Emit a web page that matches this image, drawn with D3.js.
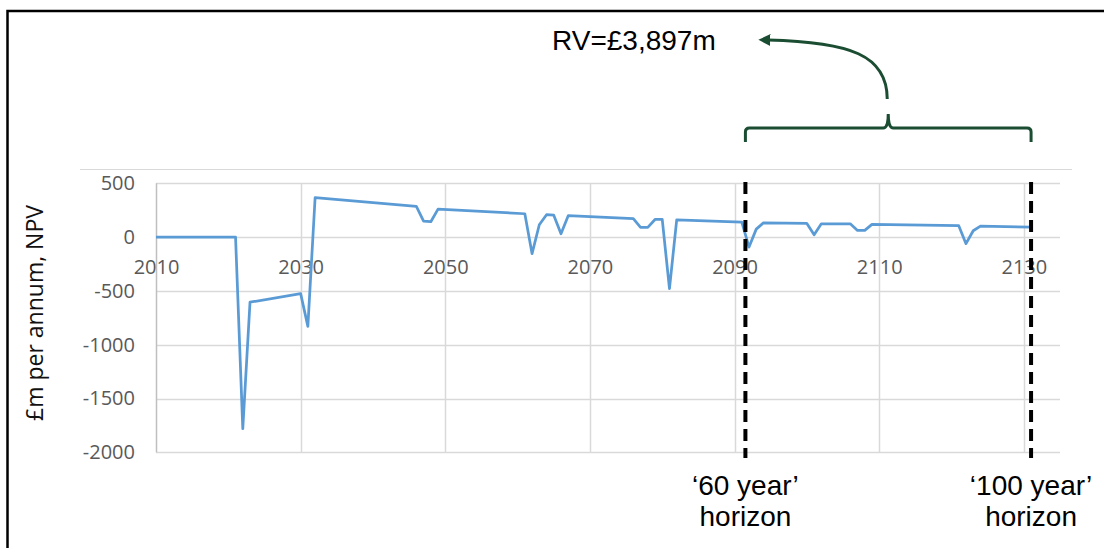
<!doctype html>
<html>
  <head>
    <meta charset="utf-8">
    <script src="https://cdn.jsdelivr.net/npm/d3@7"></script>
    <style>
      body { margin: 0; background: #fff; }
      svg { display: block; }
    </style>
  </head>
  <body>
    <svg width="1104" height="548"></svg>

    <script type="text/javascript">

        // values (vertices of the line)
        var years = [2010, 2021, 2022, 2023, 2030, 2031, 2032, 2046, 2047, 2048, 2049,
                     2061, 2062, 2063, 2064, 2065, 2066, 2067,
                     2076, 2077, 2078, 2079, 2080, 2081, 2082,
                     2091, 2092, 2093, 2094, 2100, 2101, 2102,
                     2106, 2107, 2108, 2109, 2121, 2122, 2123, 2124, 2131];
        var values = [0, 0, -1780, -605, -525, -830, 366, 285, 149, 143, 260,
                      217, -154, 115, 208, 204, 31, 199,
                      171, 90, 90, 164, 164, -479, 161,
                      139, -93, 74, 133, 127, 22, 124,
                      124, 62, 62, 118, 106, -61, 59, 102, 93];
        var xTicks = [2010, 2030, 2050, 2070, 2090, 2110, 2130];
        var yTicks = [500, 0, -500, -1000, -1500, -2000];
        var horizonYears = [2091.5, 2131];
        var horizonLabels = [["\u201860 year\u2019", "horizon"], ["\u2018100 year\u2019", "horizon"]];
        var rvLabel = "RV=\u00a33,897m";
        var yTitle = "\u00a3m per annum, NPV";

        var svg = d3.select("svg");
        var green = "#1b4d33";

        var x = d3.scaleLinear().domain([2010, 2135]).range([156, 1060]);
        var y = d3.scaleLinear().domain([-2000, 500]).range([452.3, 183.3]);

        // outer frame (left + top only)
        svg.append("path")
            .attr("d", "M7.5,548 L7.5,11 L1104,11")
            .attr("fill", "none")
            .attr("stroke", "#000")
            .attr("stroke-width", 2.5);

        // chart area top edge
        svg.append("line")
            .attr("x1", 80).attr("x2", 1072)
            .attr("y1", 169.5).attr("y2", 169.5)
            .attr("stroke", "#d9d9d9");

        // y tick labels
        svg.append("g")
            .attr("transform", "translate(156,0)")
            .call(d3.axisLeft(y).tickValues(yTicks).tickFormat(d => String(d)).tickSize(0).tickPadding(21))
            .call(g => g.select(".domain").remove())
            .call(g => g.selectAll("text")
                .attr("fill", "#595959")
                .style("font-family", "'Open Sans', sans-serif")
                .style("font-size", "20px"));

        // horizontal gridlines
        svg.append("g").selectAll("line")
            .data(yTicks).join("line")
            .attr("x1", 156).attr("x2", 1060)
            .attr("y1", d => Math.round(y(d)) + 0.5).attr("y2", d => Math.round(y(d)) + 0.5)
            .attr("stroke", "#d9d9d9").attr("stroke-width", 1.5);

        // vertical gridlines
        svg.append("g").selectAll("line")
            .data(xTicks.slice(1)).join("line")
            .attr("x1", d => Math.round(x(d)) + 0.5).attr("x2", d => Math.round(x(d)) + 0.5)
            .attr("y1", y(500)).attr("y2", y(-2000))
            .attr("stroke", "#d9d9d9").attr("stroke-width", 1.5);

        // y axis line
        svg.append("line")
            .attr("x1", 156.5).attr("x2", 156.5)
            .attr("y1", y(500)).attr("y2", y(-2000))
            .attr("stroke", "#bfbfbf").attr("stroke-width", 1.5);

        // x labels sit under the zero line
        svg.append("g")
            .attr("transform", `translate(0, ${y(0)})`)
            .call(d3.axisBottom(x).tickValues(xTicks).tickFormat(d => String(d)).tickSize(0).tickPadding(23))
            .call(g => g.select(".domain").remove())
            .call(g => g.selectAll("text")
                .attr("fill", "#595959")
                .style("font-family", "'Open Sans', sans-serif")
                .style("font-size", "20px"));

        // y title
        svg.append("text")
            .attr("transform", "translate(43,313) rotate(-90)")
            .attr("text-anchor", "middle")
            .style("font-family", "'Open Sans', sans-serif")
            .style("font-size", "23px")
            .attr("fill", "#111")
            .text(yTitle);

        // the series
        var line = d3.line()
            .x((d, i) => x(years[i]))
            .y(d => y(d));

        svg.append("path")
            .datum(values)
            .attr("d", line)
            .attr("fill", "none")
            .attr("stroke", "#5b9bd5")
            .attr("stroke-width", 2.75)
            .attr("stroke-linejoin", "round");

        // horizon markers
        svg.append("g").selectAll("line")
            .data(horizonYears).join("line")
            .attr("x1", d => x(d)).attr("x2", d => x(d))
            .attr("y1", 182).attr("y2", 458)
            .attr("stroke", "#000")
            .attr("stroke-width", 4)
            .attr("stroke-dasharray", "12,7");

        var hl = svg.append("g").selectAll("text")
            .data(horizonYears).join("text")
            .attr("x", d => x(d))
            .attr("text-anchor", "middle")
            .style("font-family", "'Liberation Sans', Arial, sans-serif")
            .style("font-size", "28px")
            .attr("fill", "#000");
        hl.append("tspan").attr("x", d => x(d)).attr("y", 495).text((d, i) => horizonLabels[i][0]);
        hl.append("tspan").attr("x", d => x(d)).attr("y", 526).text((d, i) => horizonLabels[i][1]);

        // brace across the residual-value period
        var bx0 = x(horizonYears[0]), bx1 = x(horizonYears[1]), bm = (bx0 + bx1) / 2;
        var by = 128;
        svg.append("path")
            .attr("d", `M${bx0},142 L${bx0},${by + 4} Q${bx0},${by} ${bx0 + 4},${by}
                        L${bm - 5},${by} Q${bm},${by} ${bm},${by - 14} Q${bm},${by} ${bm + 5},${by}
                        L${bx1 - 4},${by} Q${bx1},${by} ${bx1},${by + 4} L${bx1},142`)
            .attr("fill", "none")
            .attr("stroke", green)
            .attr("stroke-width", 3);

        // curved arrow to the RV label
        svg.append("defs").append("marker")
            .attr("id", "head")
            .attr("viewBox", "0 0 10 10")
            .attr("refX", 2).attr("refY", 5)
            .attr("markerWidth", 4).attr("markerHeight", 4)
            .attr("orient", "auto")
            .append("path")
            .attr("d", "M0,0 L10,5 L0,10 Z")
            .attr("fill", green);

        svg.append("path")
            .attr("d", `M${bm - 1},99 C${bm - 1},55 850,42 768,40`)
            .attr("fill", "none")
            .attr("stroke", green)
            .attr("stroke-width", 3)
            .attr("marker-end", "url(#head)");

        svg.append("text")
            .attr("x", 552).attr("y", 50)
            .style("font-family", "'Liberation Sans', Arial, sans-serif")
            .style("font-size", "28px")
            .attr("fill", "#000")
            .text(rvLabel);

    </script>
  </body>
</html>
